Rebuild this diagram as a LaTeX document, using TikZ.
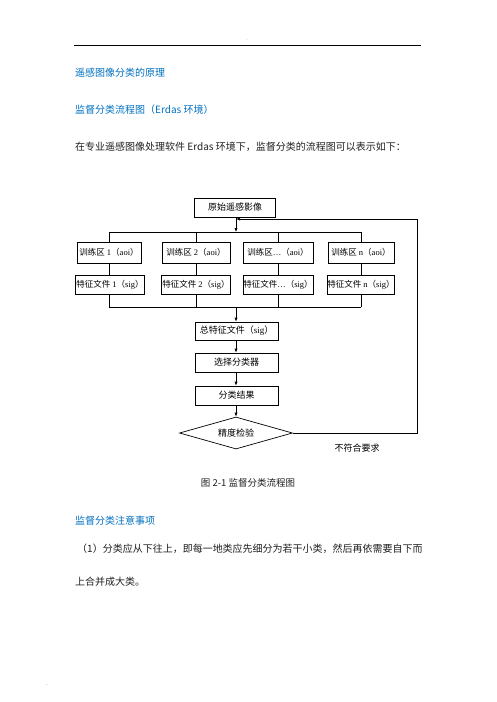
\documentclass[tikz,border=0pt]{standalone}
\usepackage{fontspec}
\setmainfont{Liberation Serif}
\newfontfamily\cjk{Noto Sans CJK SC}
\usetikzlibrary{arrows.meta,shapes.geometric}
\definecolor{headblue}{RGB}{0,112,192}
\definecolor{bodytext}{RGB}{30,30,30}
\tikzset{
  box/.style={draw, line width=0.7pt, minimum height=19pt, inner sep=0pt, font=\fontsize{9}{10}\selectfont},
  rowbox/.style={box, font=\fontsize{8.5}{10}\selectfont},
  conn/.style={line width=0.7pt},
  arr/.style={line width=0.7pt, -{Latex[length=4pt,width=3.2pt]}},
  heading/.style={anchor=west, inner sep=0pt, text=headblue, font=\cjk\fontsize{10}{12}\selectfont},
  body/.style={anchor=west, inner sep=0pt, text=bodytext, font=\cjk\fontsize{10}{12}\selectfont},
}
\begin{document}
\begin{tikzpicture}[x=1pt,y=-1pt]
\useasboundingbox (0,0) rectangle (496,702);
% header
\draw[line width=0.8pt] (74,45) -- (421,45);
\node[inner sep=0pt, text=gray, font=\fontsize{4}{4}\selectfont] (dash) at (247,40) {-};
% texts
\node[heading] (h1) at (75,73) {遥感图像分类的原理};
\node[heading] (h2) at (75,110) {监督分类流程图（Erdas 环境）};
\node[body] (p1) at (75,147) {在专业遥感图像处理软件 Erdas 环境下，监督分类的流程图可以表示如下：};
% flowchart
\node[box, minimum width=81pt] (top) at (235,207.5) {\cjk 原始遥感影像};
\coordinate (join) at (236,219);
\coordinate (busL) at (109,232);
\coordinate (busR) at (361,232);
\coordinate (busC) at (236,232);
\node[rowbox, minimum width=64pt, minimum height=21pt] (a1) at (109,252.5) {{\cjk 训练区} 1{\cjk （}aoi{\cjk ）}};
\node[rowbox, minimum width=68pt, minimum height=21pt] (a2) at (196,252.5) {{\cjk 训练区} 2{\cjk （}aoi{\cjk ）}};
\node[rowbox, minimum width=70pt, minimum height=21pt] (a3) at (278,252.5) {{\cjk 训练区}…{\cjk （}aoi{\cjk ）}};
\node[rowbox, minimum width=66pt, minimum height=21pt] (a4) at (361,252.5) {{\cjk 训练区} n{\cjk （}aoi{\cjk ）}};
\node[rowbox, minimum width=69pt] (b1) at (110,284.5) {{\cjk 特征文件} 1{\cjk （}sig{\cjk ）}};
\node[rowbox, minimum width=69pt] (b2) at (196,284.5) {{\cjk 特征文件} 2{\cjk （}sig{\cjk ）}};
\node[rowbox, minimum width=70pt] (b3) at (278,284.5) {{\cjk 特征文件}…{\cjk （}sig{\cjk ）}};
\node[rowbox, minimum width=67pt] (b4) at (361,284.5) {{\cjk 特征文件} n{\cjk （}sig{\cjk ）}};
\coordinate (lbusL) at (109,307);
\coordinate (lbusR) at (361,307);
\coordinate (lbusC) at (236,307);
\node[box, minimum width=83pt, minimum height=18pt] (c1) at (236.5,331) {{\cjk 总特征文件（}sig{\cjk ）}};
\node[box, minimum width=83pt] (c2) at (236.5,362.5) {\cjk 选择分类器};
\node[box, minimum width=83pt] (c3) at (236.5,395.5) {\cjk 分类结果};
\node[draw, line width=0.7pt, diamond, aspect=3.5, minimum width=113pt, minimum height=32pt, inner sep=0pt, font=\cjk\fontsize{9}{10}\selectfont] (d) at (236,433) {精度检验};
\coordinate (loopB) at (417,433);
\coordinate (loopT) at (417,219);
% connectors
\draw[arr] (top.south -| busC) -- (busC);
\draw[conn] (busL) -- (busR);
\draw[conn] (busL) -- (a1.north);
\draw[conn] (a2.north |- busL) -- (a2.north);
\draw[conn] (a3.north |- busL) -- (a3.north);
\draw[conn] (busR) -- (a4.north);
\draw[conn] (a1.south) -- (a1.south |- b1.north);
\draw[conn] (a2.south) -- (b2.north);
\draw[conn] (a3.south) -- (b3.north);
\draw[conn] (a4.south) -- (b4.north);
\draw[conn] (b1.south -| lbusL) -- (lbusL);
\draw[conn] (b2.south) -- (b2.south |- lbusL);
\draw[conn] (b3.south) -- (b3.south |- lbusL);
\draw[conn] (b4.south) -- (lbusR);
\draw[conn] (lbusL) -- (lbusR);
\draw[arr] (lbusC) -- (c1.north -| lbusC);
\draw[arr] (c1.south -| lbusC) -- (c2.north -| lbusC);
\draw[arr] (c2.south -| lbusC) -- (c3.north -| lbusC);
\draw[arr] (c3.south -| lbusC) -- (d.north);
\draw[arr] (d.east) -- (loopB) -- (loopT) -- (join);
\node[inner sep=0pt, font=\cjk\fontsize{9}{10}\selectfont] (lab) at (357,448) {不符合要求};
% caption
\node[inner sep=0pt, text=bodytext, font=\cjk\fontsize{9.5}{11}\selectfont] (cap) at (248,483) {图 2-1 监督分类流程图};
\node[heading] (h3) at (75,521) {监督分类注意事项};
\node[body] (p2) at (77,549) {（1）分类应从下往上，即每一地类应先细分为若干小类，然后再依需要自下而};
\node[body] (p3) at (75,582) {上合并成大类。};
\node[inner sep=0pt, text=gray, font=\fontsize{6}{6}\selectfont] (dot) at (47,685) {.};
\end{tikzpicture}
\end{document}
